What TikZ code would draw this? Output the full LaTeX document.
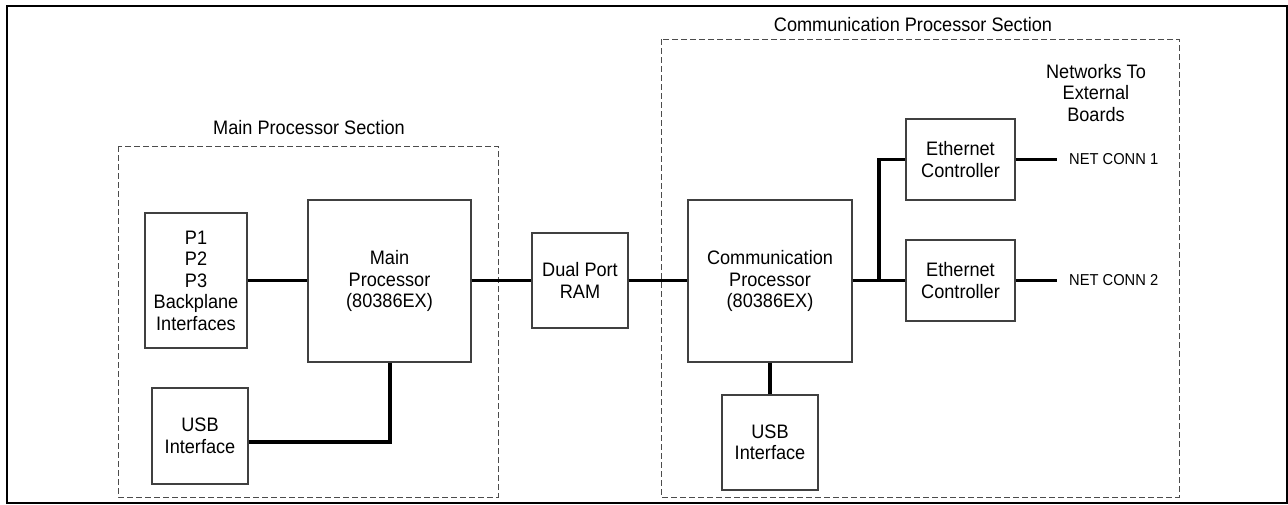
\documentclass[tikz,border=0pt]{standalone}
\usepackage{fontspec}
\setmainfont[FakeStretch=0.93]{Liberation Sans}
\begin{document}
\begin{tikzpicture}[x=1pt,y=-1pt,
  box/.style={draw=black!75, line width=1.2pt, rectangle, inner sep=0pt, align=center,
    font=\fontsize{19.5}{21.5}\selectfont},
  sect/.style={draw=black!70, line width=1pt, dash pattern=on 6pt off 3pt},
  wire/.style={line width=3.2pt, black},
  lbl/.style={font=\fontsize{19.5}{21.5}\selectfont, align=center, inner sep=0pt},
  small/.style={font=\fontsize{15.8}{17}\selectfont, anchor=west, inner sep=0pt}]
\useasboundingbox (0,0) rectangle (1288,504);
\draw[line width=2.2pt] (7,6) rectangle (1287,503);
% sections
\draw[sect] (118,146) rectangle (498,497);
\draw[sect] (661,39) rectangle (1179,497);
\node[lbl] (mainsec) at (309,128) {Main Processor Section};
\node[lbl] (commsec) at (913,25) {Communication Processor Section};
\node[lbl] (netlbl) at (1096,93) {Networks To\\External\\Boards};
% boxes
\node[box, minimum width=102pt, minimum height=135pt] (p1) at (196,280.5) {P1\\P2\\P3\\Backplane\\Interfaces};
\node[box, minimum width=163pt, minimum height=162pt] (mainp) at (389.5,281) {Main\\Processor\\(80386EX)};
\node[box, minimum width=96pt, minimum height=96pt] (usbl) at (200,436) {USB\\Interface};
\node[box, minimum width=96pt, minimum height=95pt] (dpram) at (580,280.5) {Dual Port\\RAM};
\node[box, minimum width=164pt, minimum height=162pt] (commp) at (770,281) {Communication\\Processor\\(80386EX)};
\node[box, minimum width=96pt, minimum height=95pt] (usbr) at (770,442.5) {USB\\Interface};
\node[box, minimum width=109pt, minimum height=81pt] (eth1) at (960.5,159.5) {Ethernet\\Controller};
\node[box, minimum width=109pt, minimum height=81pt] (eth2) at (960.5,280.5) {Ethernet\\Controller};
% net conn labels
\coordinate (nc1) at (1057,159.5);
\coordinate (nc2) at (1057,280.5);
\node[small] (nct1) at (1069,159.5) {NET CONN 1};
\node[small] (nct2) at (1069,280.5) {NET CONN 2};
% connectors
\draw[wire] (p1.east) -- (mainp.west |- p1.east);
\draw[wire] (mainp.east |- dpram.west) -- (dpram.west);
\draw[wire] (dpram.east) -- (commp.west |- dpram.east);
\coordinate (mbot) at (390,442);
\draw[wire] (mainp.south -| mbot) -- (mbot) -- (usbl.east |- mbot);
\draw[wire] (commp.south) -- (usbr.north);
\coordinate (jn) at (879,280.5);
\draw[wire] (commp.east |- eth2.west) -- (eth2.west);
\draw[wire] (jn) -- (jn |- eth1.west) -- (eth1.west);
\draw[wire] (eth1.east) -- (nc1);
\draw[wire] (eth2.east) -- (nc2);
\end{tikzpicture}
\end{document}
